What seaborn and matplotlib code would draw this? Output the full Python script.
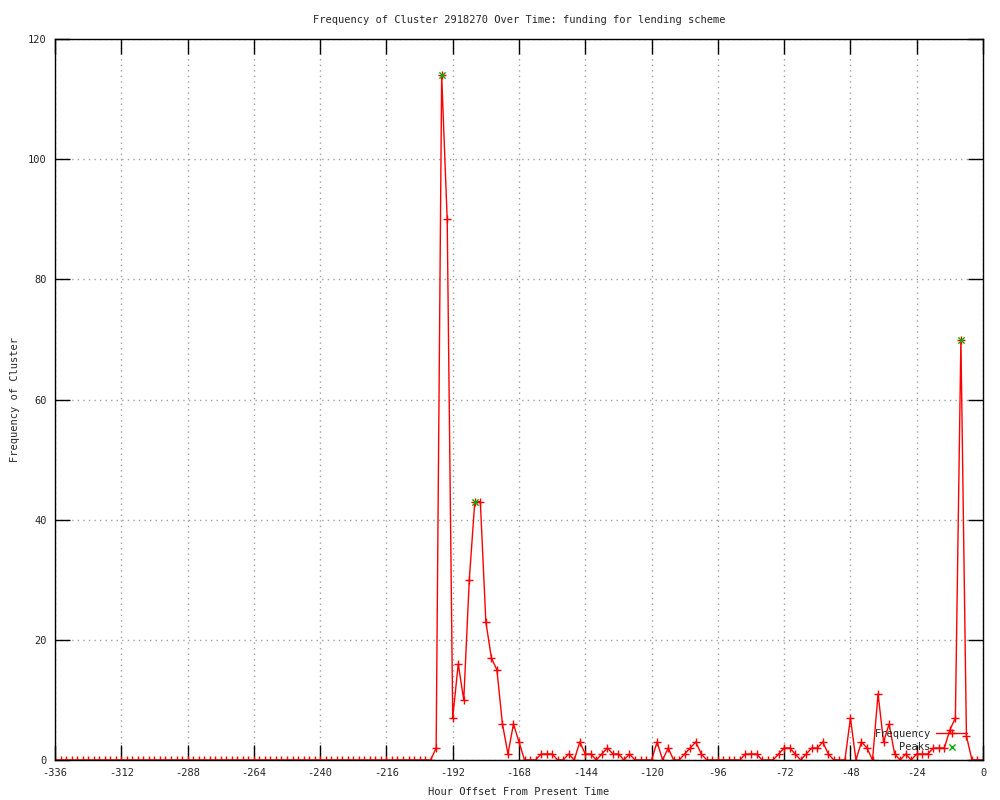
import numpy as np
import pandas as pd
import seaborn as sns
import matplotlib.pyplot as plt

# hourly bins, every 2 hours, from two weeks ago to now
hours = list(range(-336, 1, 2))

# -336 .. -200 : nothing at all
freq_quiet = [0] * 69
# -198 .. 0
freq_recent = [2, 114, 90, 7, 16, 10, 30, 43, 43, 23,
               17, 15, 6, 1, 6, 3, 0, 0, 0, 1,
               1, 1, 0, 0, 1, 0, 3, 1, 1, 0,
               1, 2, 1, 1, 0, 1, 0, 0, 0, 0,
               3, 0, 2, 0, 0, 1, 2, 3, 1, 0,
               0, 0, 0, 0, 0, 0, 1, 1, 1, 0,
               0, 0, 1, 2, 2, 1, 0, 1, 2, 2,
               3, 1, 0, 0, 0, 7, 0, 3, 2, 0,
               11, 3, 6, 1, 0, 1, 0, 1, 1, 1,
               2, 2, 2, 5, 7, 70, 4, 0, 0, 0]
freq = freq_quiet + freq_recent

peak_hours = [-196, -184, -8]
peak_values = [114, 43, 70]

x_ticks = list(range(-336, 1, 24))
y_ticks = list(range(0, 121, 20))

df = pd.DataFrame({'hour': hours, 'freq': freq})

sns.set_style('white')
plt.rcParams['font.family'] = ['DejaVu Sans Mono']
plt.rcParams['axes.unicode_minus'] = False

fig = plt.figure(figsize=(10, 8), dpi=100)
ax = fig.add_axes([0.055, 0.05, 0.928, 0.901])

sns.lineplot(data=df, x='hour', y='freq', color='red', marker='+',
             markersize=5.5, markeredgewidth=1, markeredgecolor='red',
             linewidth=1, label='Frequency', ax=ax)
sns.scatterplot(x=peak_hours, y=peak_values, color='#00b000', marker='x',
                s=20, linewidth=1, label='Peaks', ax=ax, zorder=3)

ax.set_xlim(-336, 0)
ax.set_ylim(0, 120)
ax.set_xticks(x_ticks)
ax.set_yticks(y_ticks)
ax.set_xticklabels([str(t) for t in x_ticks])
ax.set_yticklabels([str(t) for t in y_ticks])
ax.tick_params(direction='in', length=11, width=1, color='black',
               top=True, right=True, bottom=True, left=True,
               labelsize=7.5, pad=6)
ax.grid(True, color='#a0a0a0', linestyle=(0, (1, 3)), linewidth=1)
for s in ax.spines.values():
    s.set_color('black')
    s.set_linewidth(1)

ax.set_title('Frequency of Cluster 2918270 Over Time: funding for lending scheme',
             fontsize=7.5, pad=12)
ax.set_xlabel('Hour Offset From Present Time', fontsize=7.5, labelpad=6)
ax.set_ylabel('Frequency of Cluster', fontsize=7.5, labelpad=6)

ax.legend(loc='lower right', frameon=False, markerfirst=False,
          handlelength=3, fontsize=7.5, labelspacing=0.3,
          bbox_to_anchor=(0.993, -0.002), handletextpad=0.5)

fig.savefig('out.png', dpi=100)
